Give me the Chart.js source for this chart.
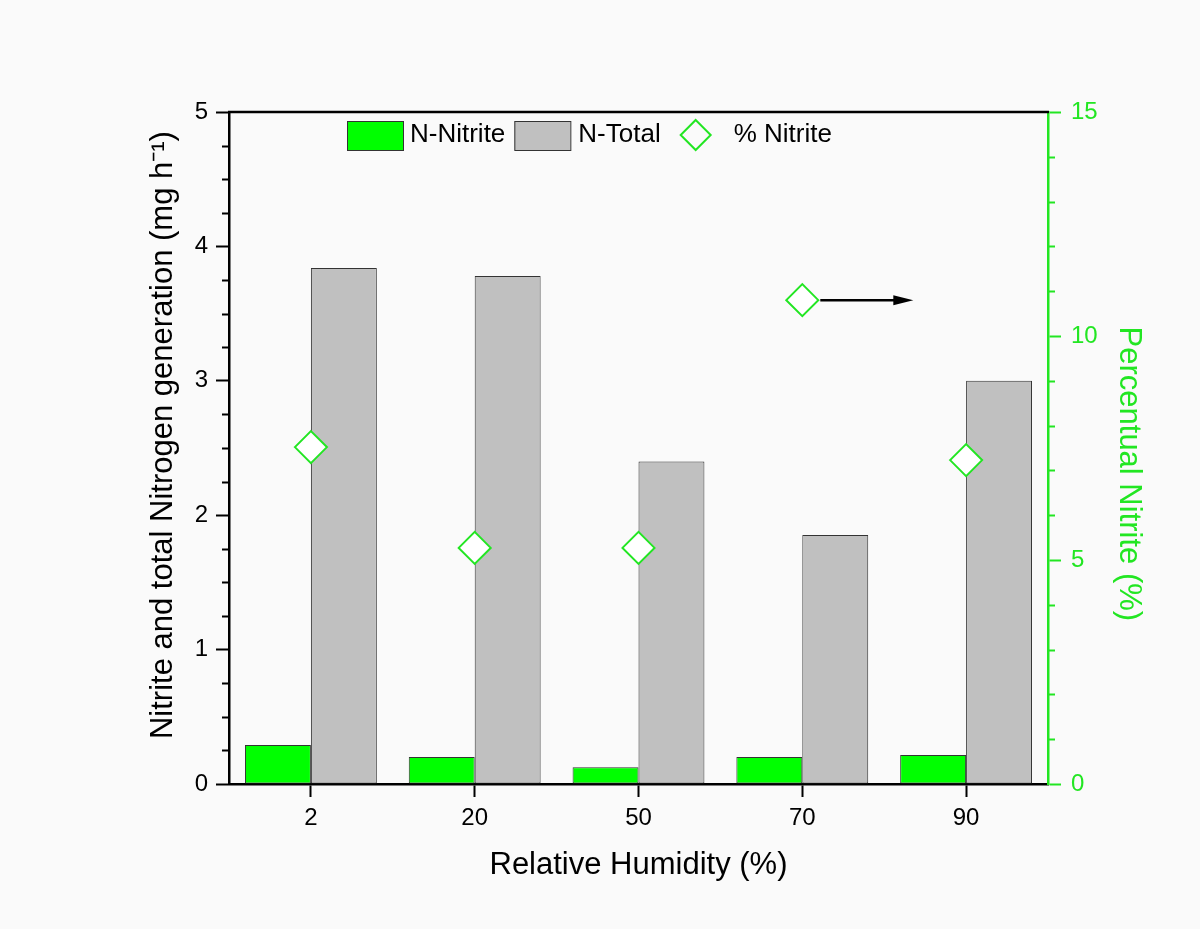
<!DOCTYPE html>
<html>
<head>
<meta charset="utf-8">
<script src="https://cdn.jsdelivr.net/npm/chart.js@4.4.1/dist/chart.umd.min.js"></script>
<style>
  html, body { margin: 0; padding: 0; background: #fafafa; }
  canvas { display: block; }
</style>
</head>
<body>
<canvas id="rhChart" width="1200" height="929"></canvas>
<script>
// values
const humidity = ['2', '20', '50', '70', '90'];
const nNitrite = [0.29, 0.20, 0.125, 0.20, 0.215];
const nTotal = [3.84, 3.78, 2.40, 1.853, 3.0];
const pctNitrite = [7.52, 5.27, 5.27, 10.8, 7.23];

const FONT = '"Liberation Sans", Arial, sans-serif';
const GREEN = '#00ff00';
const GREEN_LINE = '#22e622';
const GRAY = '#c0c0c0';

// minor ticks, top frame line, arrow and the in-plot legend
const extras = {
  id: 'extras',
  afterDraw(chart) {
    const { ctx, chartArea } = chart;
    const y = chart.scales.y;
    const y2 = chart.scales.y2;

    ctx.save();
    ctx.lineWidth = 2;
    ctx.strokeStyle = '#000';
    for (let v = 0.25; v < 5; v += 0.25) {
      if (Number.isInteger(v)) continue;
      const py = Math.round(y.getPixelForValue(v)) + 0.5;
      ctx.beginPath();
      ctx.moveTo(chartArea.left - 7, py);
      ctx.lineTo(chartArea.left, py);
      ctx.stroke();
    }
    ctx.strokeStyle = GREEN_LINE;
    for (let v = 1; v < 15; v++) {
      if (v % 5 === 0) continue;
      const py = Math.round(y2.getPixelForValue(v)) + 0.5;
      ctx.beginPath();
      ctx.moveTo(chartArea.right, py);
      ctx.lineTo(chartArea.right + 7, py);
      ctx.stroke();
    }

    // top frame
    ctx.strokeStyle = '#000';
    ctx.lineWidth = 2.5;
    ctx.beginPath();
    ctx.moveTo(chartArea.left - 1, chartArea.top);
    ctx.lineTo(chartArea.right + 1, chartArea.top);
    ctx.stroke();

    // arrow pointing to the right axis
    const pt = chart.getDatasetMeta(0).data[3];
    const ax0 = pt.x + 18, ax1 = pt.x + 111, ay = pt.y;
    ctx.lineWidth = 2.5;
    ctx.beginPath();
    ctx.moveTo(ax0, ay);
    ctx.lineTo(ax1 - 16, ay);
    ctx.stroke();
    ctx.fillStyle = '#000';
    ctx.beginPath();
    ctx.moveTo(ax1, ay);
    ctx.lineTo(ax1 - 20, ay - 5);
    ctx.lineTo(ax1 - 20, ay + 5);
    ctx.closePath();
    ctx.fill();

    // legend
    ctx.font = '26px ' + FONT;
    ctx.textBaseline = 'middle';
    ctx.fillStyle = '#000';
    const ly = chartArea.top + 23;
    let lx = 347;
    ctx.lineWidth = 1;
    ctx.strokeStyle = '#333';
    ctx.fillStyle = GREEN;
    ctx.fillRect(lx, ly - 14, 56, 29);
    ctx.strokeRect(lx + 0.5, ly - 13.5, 56, 29);
    lx += 63;
    ctx.fillStyle = '#000';
    ctx.fillText('N-Nitrite', lx, ly);
    lx += ctx.measureText('N-Nitrite').width + 9;
    ctx.fillStyle = GRAY;
    ctx.fillRect(lx, ly - 14, 56, 29);
    ctx.strokeRect(lx + 0.5, ly - 13.5, 56, 29);
    lx += 64;
    ctx.fillStyle = '#000';
    ctx.fillText('N-Total', lx, ly);
    lx += ctx.measureText('N-Total').width + 35;
    ctx.strokeStyle = GREEN_LINE;
    ctx.lineWidth = 2;
    ctx.beginPath();
    ctx.moveTo(lx, ly - 15);
    ctx.lineTo(lx + 15, ly);
    ctx.lineTo(lx, ly + 15);
    ctx.lineTo(lx - 15, ly);
    ctx.closePath();
    ctx.stroke();
    lx += 38;
    ctx.fillStyle = '#000';
    ctx.fillText('% Nitrite', lx, ly);
    ctx.restore();
  }
};

new Chart(document.getElementById('rhChart'), {
  type: 'bar',
  data: {
    labels: humidity,
    datasets: [
      {
        type: 'line',
        label: '% Nitrite',
        data: pctNitrite,
        yAxisID: 'y2',
        showLine: false,
        pointStyle: 'rectRot',
        pointRadius: 16,
        pointBorderWidth: 2,
        pointBorderColor: GREEN_LINE,
        pointBackgroundColor: '#ffffff',
        order: -1,
      },
      {
        label: 'N-Nitrite',
        data: nNitrite,
        yAxisID: 'y',
        backgroundColor: GREEN,
        borderColor: '#333',
        borderWidth: 1,
        borderSkipped: false,
        categoryPercentage: 0.805,
        barPercentage: 1.0,
      },
      {
        label: 'N-Total',
        data: nTotal,
        yAxisID: 'y',
        backgroundColor: GRAY,
        borderColor: '#333',
        borderWidth: 1,
        borderSkipped: false,
        categoryPercentage: 0.805,
        barPercentage: 1.0,
      },
    ],
  },
  options: {
    responsive: false,
    animation: false,
    layout: { padding: { left: 145, right: 53, top: 112, bottom: 45 } },
    plugins: {
      legend: { display: false },
      tooltip: { enabled: false },
    },
    scales: {
      x: {
        offset: true,
        grid: { drawOnChartArea: false, offset: false, tickLength: 13, tickWidth: 2, tickColor: '#000' },
        border: { color: '#000', width: 2.5 },
        ticks: { font: { family: FONT, size: 24 }, color: '#000', padding: 7 },
        title: { display: true, text: 'Relative Humidity (%)', font: { family: FONT, size: 31 }, color: '#000', padding: 0 },
        afterFit: (s) => { s.height = 100; },
      },
      y: {
        position: 'left',
        min: 0,
        max: 5,
        ticks: { stepSize: 1, font: { family: FONT, size: 24 }, color: '#000', padding: 8 },
        grid: { drawOnChartArea: false, tickLength: 13, tickWidth: 2, tickColor: '#000' },
        border: { color: '#000', width: 2.5 },
        // leading spaces nudge the centred title upwards like the original
        title: { display: true, text: '   Nitrite and total Nitrogen generation (mg h\u207B\u00B9)', font: { family: FONT, size: 31 }, color: '#000', padding: 0 },
        afterFit: (s) => { s.width = 84; },
      },
      y2: {
        position: 'right',
        min: 0,
        max: 15,
        ticks: { stepSize: 5, font: { family: FONT, size: 24 }, color: GREEN_LINE, padding: 10 },
        grid: { drawOnChartArea: false, tickLength: 13, tickWidth: 2, tickColor: GREEN_LINE },
        border: { color: GREEN_LINE, width: 2.5 },
        title: { display: true, text: '      Percentual Nitrite (%)', font: { family: FONT, size: 31 }, color: GREEN_LINE, padding: 0 },
        afterFit: (s) => { s.width = 99; },
      },
    },
  },
  plugins: [extras],
});
</script>
</body>
</html>
